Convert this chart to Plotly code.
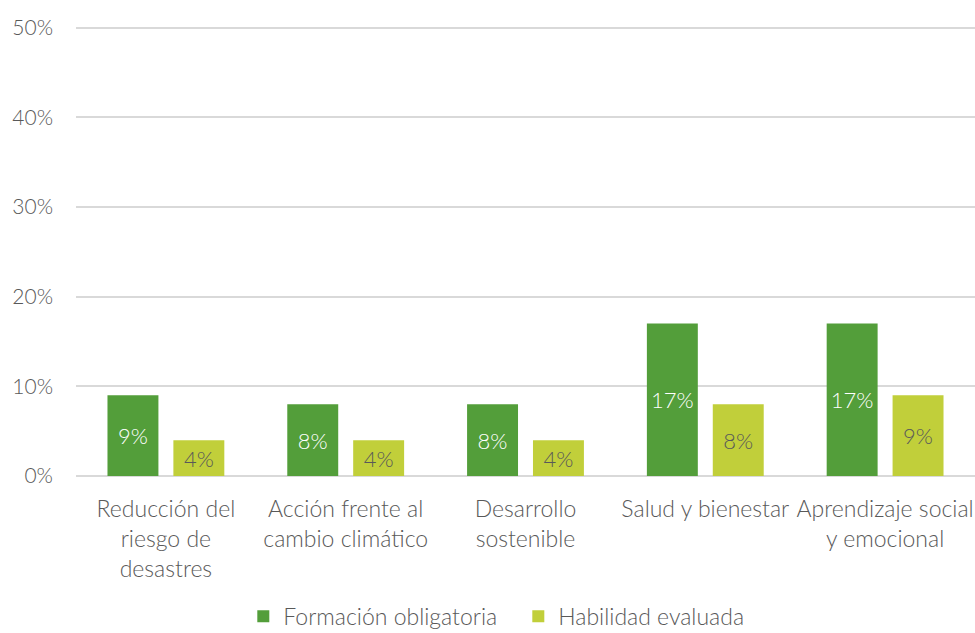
import plotly.graph_objects as go

categories = [
    "Reducción del<br>riesgo de<br>desastres",
    "Acción frente al<br>cambio climático",
    "Desarrollo<br>sostenible",
    "Salud y bienestar",
    "Aprendizaje social<br>y emocional",
]
formacion_obligatoria = [0.09, 0.08, 0.08, 0.17, 0.17]
habilidad_evaluada = [0.04, 0.04, 0.04, 0.08, 0.09]
y_ticks = [0, 0.1, 0.2, 0.3, 0.4, 0.5]

FONT = "Lato"
GREY = "#595959"

fig = go.Figure()
fig.add_trace(go.Bar(
    name="Formación obligatoria",
    x=categories, y=formacion_obligatoria,
    marker=dict(color="#539E3A", line=dict(width=0)),
    texttemplate="%{y:.0%}", textposition="inside", insidetextanchor="middle",
    textangle=0,
    insidetextfont=dict(family=FONT, size=22, color="#ffffff", weight=300),
))
fig.add_trace(go.Bar(
    name="Habilidad evaluada",
    x=categories, y=habilidad_evaluada,
    marker=dict(color="#C1CF3A", line=dict(width=0)),
    texttemplate="%{y:.0%}", textposition="inside", insidetextanchor="middle",
    textangle=0,
    insidetextfont=dict(family=FONT, size=22, color=GREY, weight=300),
))

fig.update_layout(
    width=975, height=633,
    margin=dict(l=76, r=0, t=26, b=157, autoexpand=False),
    paper_bgcolor="white", plot_bgcolor="white",
    font=dict(family=FONT, size=22, color=GREY, weight=300),
    barmode="group", bargap=0.267, bargroupgap=0.227,
    uniformtext=dict(mode=False),
    legend=dict(
        orientation="h", x=0.492, xanchor="center", y=-0.264, yanchor="top",
        font=dict(family=FONT, size=23, color=GREY, weight=300),
        itemwidth=30, entrywidth=230, tracegroupgap=0,
    ),
    showlegend=True,
)
fig.update_xaxes(
    showgrid=False, showline=False, ticks="", ticklabelstandoff=17,
    automargin=False,
    tickfont=dict(family=FONT, size=23, color=GREY, weight=300),
)
fig.update_yaxes(
    range=[0, 0.502], tickvals=y_ticks, tickformat=".0%",
    showgrid=True, gridcolor="#D9D9D9", gridwidth=1.5,
    zeroline=True, zerolinecolor="#D9D9D9", zerolinewidth=1.5,
    showline=False, ticks="", ticklabelstandoff=22, automargin=False,
    tickfont=dict(family=FONT, size=21, color=GREY, weight=300),
)

fig.write_html("out.html")
